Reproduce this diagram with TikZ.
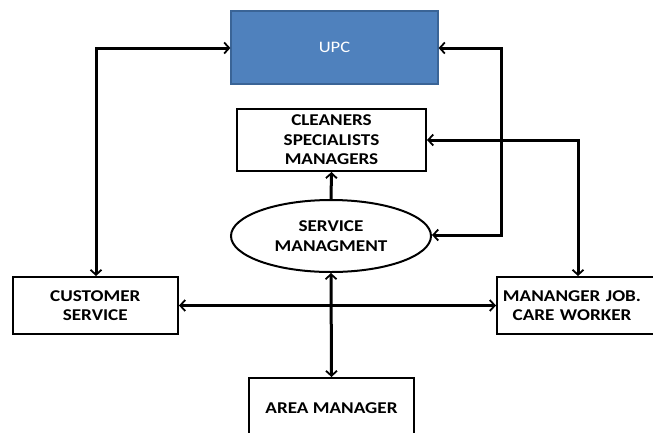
\documentclass[tikz,border=0pt]{standalone}
\usepackage{fontspec}
\setmainfont{Carlito}[FakeStretch=1.16]
\usetikzlibrary{arrows.meta,shapes.geometric}
\definecolor{upcfill}{HTML}{4F81BD}
\definecolor{upcdraw}{HTML}{3A6496}
\tikzset{
  lbl/.style={font=\fontsize{16.5}{19.5}\selectfont\bfseries},
  box/.style={draw=black, line width=2pt, fill=white, align=center, inner sep=0pt, lbl},
  bluebox/.style={draw=upcdraw, line width=1.2pt, fill=upcfill, text=white, inner sep=0pt,
              font=\fontsize{16}{19}\selectfont},
  conn/.style={line width=3pt, -{Straight Barb[length=5pt,width=11pt,line width=1.8pt]}},
  biconn/.style={line width=3pt, {Straight Barb[length=5pt,width=11pt,line width=1.8pt]}-{Straight Barb[length=5pt,width=11pt,line width=1.8pt]}},
}
\begin{document}
\begin{tikzpicture}[x=1pt,y=-1pt]
\useasboundingbox (0,0) rectangle (653,432);
\clip (0,0) rectangle (653,432);
\node[bluebox, minimum width=207pt, minimum height=73pt] (upc) at (334.5,47.5) {UPC};
\node[box, minimum width=189pt, minimum height=62pt] (cln) at (331.5,140) {CLEANERS\\SPECIALISTS\\MANAGERS};
\node[draw=black, line width=2pt, ellipse, minimum width=200pt, minimum height=72pt, inner sep=0pt, align=center, lbl] (svc) at (331,236) {SERVICE\\MANAGMENT};
\node[box, minimum width=165.5pt, minimum height=57pt] (cust) at (95.25,305.5) {CUSTOMER\\SERVICE};
\node[box, minimum width=160pt, minimum height=57pt, text width=160pt] (mgr) at (577,305.5) {\hspace*{-10pt}MANANGER JOB.\\\hspace*{-10pt}CARE WORKER};
\node[box, minimum width=165pt, minimum height=90pt] (area) at (331.5,423) {};
\node[lbl] (areat) at (331.5,408) {AREA MANAGER};
\coordinate (lc) at (96,48);
\coordinate (rc) at (501,48);
\coordinate (rb) at (501,235);
\coordinate (mc) at (578,140);
% left loop: customer <-> UPC
\draw[biconn] (upc.west |- lc) -- (lc) -- (lc |- cust.north);
% right loop: service <-> UPC
\draw[biconn] (upc.east |- rc) -- (rc) -- (rb) -- (svc.east |- rb);
% cleaners <-> mananger
\draw[biconn] (cln.east |- mc) -- (mc) -- (mc |- mgr.north);
% service -> cleaners
\draw[conn] (svc.north) -- (cln.south);
% customer <-> mananger
\draw[biconn] (cust.east) -- (cust.east -| mgr.west);
% service <-> area manager
\draw[biconn] (svc.south) -- (area.north);
\end{tikzpicture}
\end{document}
